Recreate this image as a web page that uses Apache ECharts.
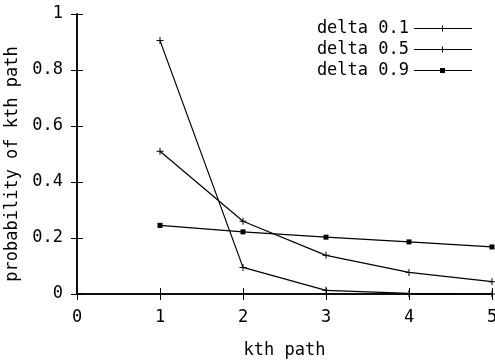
<!DOCTYPE html>
<html>
<head>
<meta charset="utf-8">
<script src="https://cdn.jsdelivr.net/npm/echarts@6/dist/echarts.min.js"></script>
<style>
  html, body { margin: 0; padding: 0; background: #fff; }
  #chart { width: 495px; height: 360px; }
</style>
</head>
<body>
<div id="chart"></div>
<script>
const kPath = [1, 2, 3, 4, 5];
const delta01 = [0.905, 0.095, 0.013, 0.002, 0.0];
const delta05 = [0.51, 0.26, 0.138, 0.077, 0.044];
const delta09 = [0.245, 0.222, 0.203, 0.186, 0.168];
const yTicks = [0, 0.2, 0.4, 0.6, 0.8, 1];

const plus = 'path://M0,3H7V4H0Z M3,0H4V7H3Z';
const font = 'DejaVu Sans Mono';

const toPairs = (vals) => kPath.map((k, i) => [k, vals[i]]);

const chart = echarts.init(document.getElementById('chart'));

const series = [
  { name: 'delta 0.1', data: toPairs(delta01), symbol: plus, symbolSize: 7,
    icon: 'path://M0,4.5H58V5.5H0Z M28,2H29V8H28Z' },
  { name: 'delta 0.5', data: toPairs(delta05), symbol: plus, symbolSize: 7,
    icon: 'path://M0,4.5H58V5.5H0Z M28,2H29V8H28Z' },
  { name: 'delta 0.9', data: toPairs(delta09), symbol: 'rect', symbolSize: 5,
    icon: 'path://M0,4.5H58V5.5H0Z M26,2.5H31V7.5H26Z' }
];

const axisBase = {
  type: 'value',
  axisLine: { show: true, lineStyle: { color: '#000', width: 1.5 } },
  axisTick: { show: true, inside: true, length: 6, lineStyle: { color: '#000' } },
  splitLine: { show: false }
};

chart.setOption({
  animation: false,
  textStyle: { fontFamily: font },
  grid: { left: 77, right: 3, top: 14, bottom: 66, outerBoundsMode: 'none' },
  legend: {
    orient: 'vertical',
    right: 18,
    top: 15,
    align: 'right',
    itemWidth: 58,
    itemHeight: 10,
    itemGap: 4,
    textStyle: { fontFamily: font, fontSize: 17, color: '#000' },
    data: series.map(s => ({ name: s.name, icon: s.icon }))
  },
  xAxis: [
    Object.assign({}, axisBase, {
      min: 0, max: 5, interval: 1,
      name: 'kth path', nameLocation: 'middle', nameGap: 48,
      nameTextStyle: { fontFamily: font, fontSize: 17, color: '#000' },
      axisLabel: { color: '#000', fontSize: 17, fontFamily: font, margin: 15 }
    }),
    Object.assign({}, axisBase, {
      position: 'top', min: 0, max: 5, interval: 1,
      axisLabel: { show: false }
    })
  ],
  yAxis: [
    Object.assign({}, axisBase, {
      min: 0, max: 1, interval: 0.2,
      name: 'probability of kth path', nameLocation: 'middle', nameGap: 51,
      nameTextStyle: { fontFamily: font, fontSize: 17, color: '#000', padding: [0, 20, 0, 0] },
      axisLabel: {
        color: '#000', fontSize: 17, fontFamily: font, margin: 14,
        formatter: v => {
          const t = yTicks.find(x => Math.abs(x - v) < 1e-9);
          return t === undefined ? '' : String(t);
        }
      }
    }),
    Object.assign({}, axisBase, {
      position: 'right', min: 0, max: 1, interval: 0.2,
      axisLabel: { show: false }
    })
  ],
  series: series.map(s => ({
    name: s.name,
    type: 'line',
    data: s.data,
    symbol: s.symbol,
    symbolSize: s.symbolSize,
    showAllSymbol: true,
    lineStyle: { color: '#000', width: 1.2 },
    itemStyle: { color: '#000' },
    emphasis: { disabled: true }
  }))
});
</script>
</body>
</html>
